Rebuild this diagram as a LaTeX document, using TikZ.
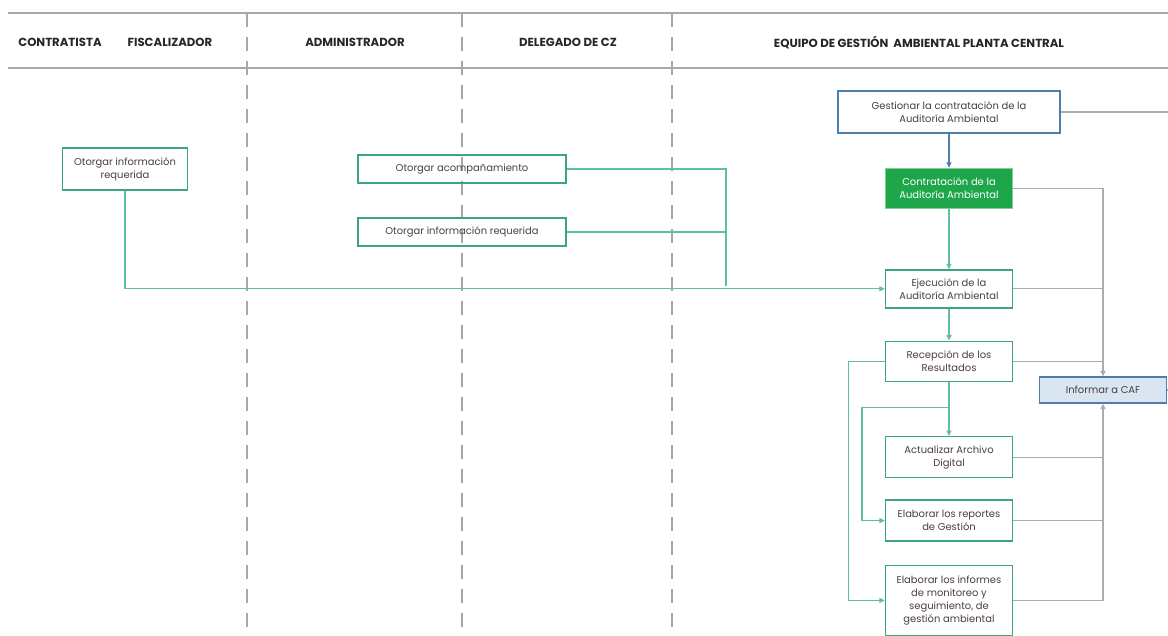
\documentclass[tikz,border=0pt]{standalone}
\usepackage{fontspec}
\setmainfont{Poppins}
\usetikzlibrary{arrows.meta}
\usetikzlibrary{positioning}
\definecolor{lanegray}{HTML}{A8A8A8}
\definecolor{boxgreen}{HTML}{3AA57E}
\definecolor{linkgreen}{HTML}{5FC09E}
\definecolor{fillgreen}{HTML}{1DA64A}
\definecolor{boxblue}{HTML}{4F7DAE}
\definecolor{linkgray}{HTML}{A5ADB5}
\definecolor{cafblue}{HTML}{DAE5F2}
\definecolor{txtgray}{HTML}{4B3E3E}
\tikzset{
  act/.style={rectangle, minimum width=3.81cm, minimum height=1.2cm, text centered, align=center, draw=boxgreen, line width=1.2pt, text=txtgray, font=\fontsize{8.5}{11}\selectfont, inner sep=1pt},
  blueact/.style={act, draw=boxblue},
  head/.style={font=\fontsize{10}{12}\selectfont\bfseries, text=black!85},
  lane/.style={lanegray, line width=1.6pt, dash pattern=on 0.42cm off 0.3cm},
  rule/.style={lanegray, line width=1.2pt},
  link/.style={linkgreen, line width=0.9pt},
  graylink/.style={linkgray, line width=0.9pt},
  >={Triangle[length=1.6mm,width=1.5mm]},
  node distance=5mm
}

\begin{document}
\begin{tikzpicture}[x=0.03cm, y=-0.03cm]
\useasboundingbox (0,0) rectangle (1168,635);
% lanes
\draw[rule] (8,13) -- (1168,13);
\draw[rule] (8,68) -- (1168,68);
\foreach \x in {247,462,672}
  \draw[lane] (\x,13) -- (\x,635);
\node[head] (hcon) at (60,42) {CONTRATISTA};
\node[head] (hfis) at (170,42) {FISCALIZADOR};
\node[head] (hadm) at (355,42) {ADMINISTRADOR};
\node[head] (hdel) at (568,42) {DELEGADO DE CZ};
\node[head] (hequ) at (919,42) {EQUIPO DE GESTIÓN\ \ AMBIENTAL PLANTA CENTRAL};

\node[act, minimum width=3.75cm, minimum height=1.26cm] (infocon) at (125,169) {Otorgar información\\requerida};
\node[act, minimum width=6.24cm, minimum height=0.84cm] (acomp) at (462,169) {Otorgar acompañamiento};
\node[act, minimum width=6.24cm, minimum height=0.84cm] (infoadm) at (462,232) {Otorgar información requerida};

\node[blueact, minimum width=6.66cm, minimum height=1.26cm] (gest) at (949,112) {Gestionar la contratación de la\\Auditoría Ambiental};
\node[act, draw=fillgreen!55!white, fill=fillgreen, text=white, below=1.02cm of gest] (contr) {Contratación de la\\Auditoría Ambiental};
\node[act, minimum height=1.14cm, below=1.8cm of contr] (ejec) {Ejecución de la\\Auditoría Ambiental};
\node[act, below=0.96cm of ejec] (recep) {Recepción de los\\Resultados};
\node[act, minimum height=1.23cm, below=1.62cm of recep] (actual) {Actualizar Archivo\\Digital};
\node[act, minimum height=1.23cm, below=0.63cm of actual] (repor) {Elaborar los reportes\\de Gestión};
\node[act, minimum height=2.1cm, below=0.69cm of repor] (inform) {Elaborar los informes\\de monitoreo y\\seguimiento, de\\gestión ambiental};
\node[blueact, fill=cafblue, minimum height=0.78cm] (caf) at (1103,390) {Informar a CAF};
\coordinate (join) at (726,286);
\coordinate (outgest) at (1168,112);
\coordinate (outcaf) at (1168,390);

%
\draw[->, boxblue, line width=0.9pt] (gest) -- (contr);
\draw[->, link] (contr) -- (ejec);
\draw[->, link] (ejec) -- (recep);
\draw[->, link] (recep) -- (actual) coordinate[pos=0.48] (split);
\draw[->, link] (infocon.south) |- (ejec.west);
\draw[link] (acomp.east) -| (join);
\draw[link] (infoadm.east) -- (infoadm.east -| join);
\draw[->, link] (recep.west) -- ++(-36,0) |- (inform.west);
\draw[->, link] (split) -- ++(-87,0) |- (repor.west);
\draw[graylink] (gest.east) -- (outgest);
\draw[graylink] (caf.east) -- (outcaf);
\draw[->, graylink] (contr.east) -| (caf.north);
\draw[graylink] (ejec.east) -- (ejec.east -| caf.north);
\draw[graylink] (recep.east) -- (recep.east -| caf.north);
\draw[->, graylink] (inform.east) -| (caf.south);
\draw[graylink] (actual.east) -- (actual.east -| caf.south);
\draw[graylink] (repor.east) -- (repor.east -| caf.south);
\end{tikzpicture}
\end{document}
